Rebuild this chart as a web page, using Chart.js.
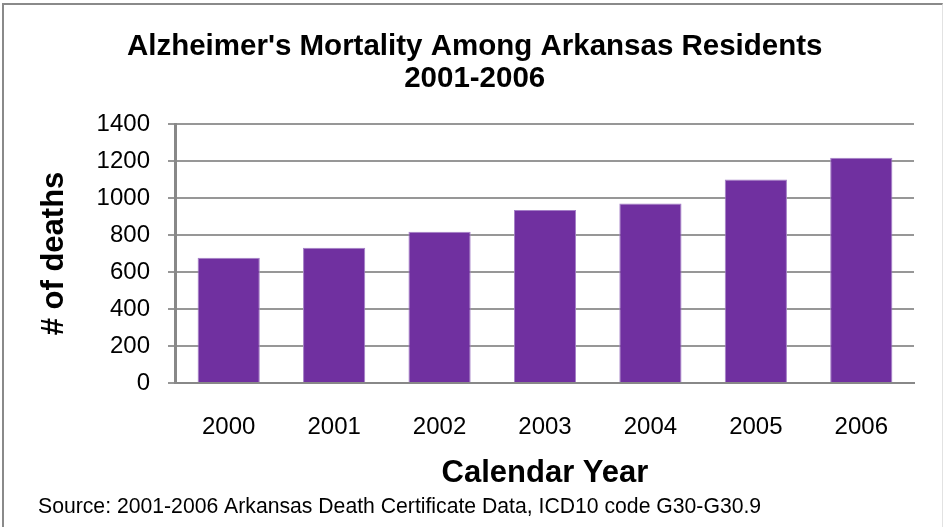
<!DOCTYPE html>
<html>
<head>
<meta charset="utf-8">
<script src="https://cdn.jsdelivr.net/npm/chart.js@4.4.1/dist/chart.umd.min.js"></script>
<style>
  html, body { margin: 0; padding: 0; background: #fff; }
  #wrap { position: relative; width: 943px; height: 527px; overflow: hidden; }
  #frame {
    position: absolute; left: 2px; top: 3px; width: 938px; height: 560px;
    border-left: 2px solid #8a8a8a; border-top: 2px solid #8a8a8a; border-right: 1px solid #e2e2e2;
    pointer-events: none;
  }
  canvas { position: absolute; left: 0; top: 0; }
</style>
</head>
<body>
<div id="wrap">
  <canvas id="chart" width="943" height="527"></canvas>
  <div id="frame"></div>
</div>
<script>
const years = ['2000', '2001', '2002', '2003', '2004', '2005', '2006'];
const deaths = [677, 731, 817, 935, 970, 1100, 1218];
const titleLines = ["Alzheimer's Mortality Among Arkansas Residents", '2001-2006'];
const sourceNote = 'Source: 2001-2006 Arkansas Death Certificate Data, ICD10 code G30-G30.9';

const FONT = '"Liberation Sans", Arial, sans-serif';
Chart.defaults.font.family = FONT;
Chart.defaults.color = '#000';

// source line under the axis title
const sourcePlugin = {
    id: 'sourceNote',
    afterDraw(chart) {
        const ctx = chart.ctx;
        ctx.save();
        ctx.font = '21.2px ' + FONT;
        ctx.fillStyle = '#000';
        ctx.textAlign = 'left';
        ctx.textBaseline = 'middle';
        ctx.fillText(sourceNote, 38, 507);
        ctx.restore();
    }
};

const ctx = document.getElementById('chart').getContext('2d');
new Chart(ctx, {
    type: 'bar',
    data: {
        labels: years,
        datasets: [{
            data: deaths,
            backgroundColor: '#7030A0',
            borderColor: '#a47fc6',
            borderWidth: 1,
            barPercentage: 0.59,
            categoryPercentage: 1
        }]
    },
    options: {
        responsive: false,
        animation: false,
        layout: { padding: { left: 35.4, right: 29, top: 0, bottom: 35 } },
        plugins: {
            legend: { display: false },
            tooltip: { enabled: false },
            title: {
                display: true,
                text: titleLines,
                font: { size: 29.5, weight: 'bold', lineHeight: 1.085 },
                color: '#000',
                padding: { top: 30.5, bottom: 29.5 }
            }
        },
        scales: {
            x: {
                // tick marks hidden, tickLength only pushes the labels down
                grid: { display: false, drawTicks: true, tickLength: 28 },
                border: { display: true, color: '#888', width: 2 },
                ticks: { font: { size: 24 }, padding: 2, color: '#000', maxRotation: 0, minRotation: 0 },
                title: {
                    display: true,
                    text: 'Calendar Year',
                    font: { size: 31, weight: 'bold' },
                    color: '#000',
                    padding: { top: 11, bottom: 0 }
                }
            },
            y: {
                min: 0,
                max: 1400,
                ticks: {
                    stepSize: 200, font: { size: 24 }, padding: 18, color: '#000',
                    callback: v => String(v)
                },
                grid: { color: '#979797', lineWidth: 2, tickLength: 8, drawTicks: true },
                border: { display: true, color: '#888', width: 3 },
                title: {
                    display: true,
                    text: '# of deaths',
                    font: { size: 31, weight: 'bold' },
                    color: '#000',
                    padding: { top: 0, bottom: 6 }
                }
            }
        }
    },
    plugins: [sourcePlugin]
});
</script>
</body>
</html>
